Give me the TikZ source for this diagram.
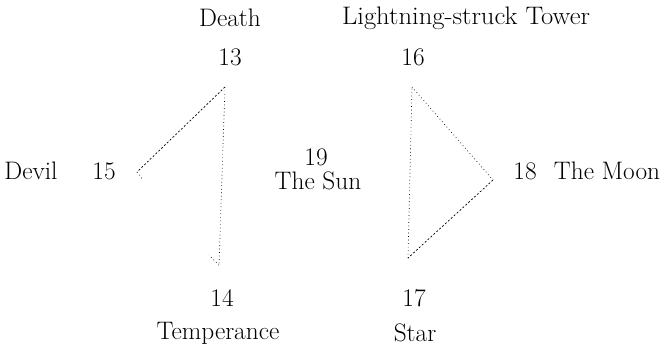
\documentclass[tikz,border=0pt]{standalone}
\usepackage{amsmath}
\usepackage{tikz}

\begin{document}
\begin{tikzpicture}[x=0.025cm,y=-0.025cm]
	\useasboundingbox (0,0) rectangle (662,350);
	\begin{scope}[every node/.style={font=\fontsize{18}{21}\selectfont,inner sep=0pt}]
	\node (death) at (230,18) {Death};
	\node (n13) at (230,57) {13};
	\node[xscale=1.05] (tower) at (466,18) {Lightning-struck Tower};
	\node (n16) at (413,57) {16};
	\node (devil) at (31,171) {Devil};
	\node (n15) at (104,171) {15};
	\node (n19) at (316,157) {19};
	\node (sun) at (318,181) {The Sun};
	\node (n18) at (525,171) {18};
	\node (moon) at (607,171) {The Moon};
	\node (n14) at (222,298) {14};
	\node (temperance) at (218,333) {Temperance};
	\node (n17) at (414,298) {17};
	\node (star) at (415,333) {Star};
	\end{scope}
	\coordinate (a13) at (225,87);
	\coordinate (a14) at (219,265);
	\coordinate (a15) at (137,172);
	\coordinate (a16) at (412,87);
	\coordinate (a17) at (408,258);
	\coordinate (a18) at (493,180);
	\coordinate (t14) at (209,255);
	\coordinate (t15) at (143,180);
	\draw [line width=0.5pt,dash pattern=on 1.4pt off 1.4pt] (a13) edge (a15);
	\draw [line width=0.5pt,dotted] (a13) edge (a14);
	\draw [line width=0.5pt,dotted] (a14) edge (t14);
	\draw [line width=0.5pt,dotted] (a15) edge (t15);
	\draw [line width=0.5pt,dotted] (a16) edge (a18);
	\draw [line width=0.5pt,dash pattern=on 1.4pt off 1.4pt] (a18) edge (a17);
	\draw [line width=0.5pt,dotted] (a17) edge (a16);
\end{tikzpicture}
\end{document}
